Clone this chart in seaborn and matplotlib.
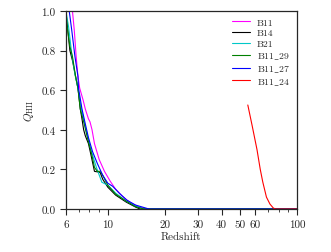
import numpy as np
import pandas as pd
import seaborn as sns
import matplotlib
matplotlib.use('Agg')
import matplotlib.pyplot as plt
from matplotlib.ticker import FixedLocator, NullFormatter

# reionisation histories
z_b11 = [6.0, 6.5, 6.65, 6.8, 6.95, 7.1, 7.4, 7.6, 7.9, 8.05, 8.25, 8.5, 9.0, 9.6, 10.3, 11.0, 11.9, 13.0, 14.5, 16.0, 100]
q_b11 = [1.0, 1.0, 0.90, 0.77, 0.67, 0.61, 0.55, 0.505, 0.455, 0.44, 0.40, 0.33, 0.25, 0.19, 0.14, 0.10, 0.065, 0.035, 0.012, 0.0, 0.0]

z_b14 = [6.0, 6.1, 6.3, 6.5, 6.75, 6.95, 7.15, 7.3, 7.45, 7.6, 7.9, 8.2, 8.5, 9.1, 9.4, 10.0, 11.0, 12.5, 14.0, 14.8, 100]
q_b14 = [1.0, 0.93, 0.80, 0.75, 0.67, 0.61, 0.505, 0.455, 0.40, 0.37, 0.33, 0.26, 0.19, 0.185, 0.15, 0.11, 0.07, 0.035, 0.01, 0.0, 0.0]

z_b21 = [6.0, 6.2, 6.45, 6.7, 6.95, 7.2, 7.5, 7.8, 8.2, 8.7, 9.3, 10.0, 11.0, 12.5, 14.0, 15.5, 100]
q_b21 = [1.0, 0.92, 0.78, 0.68, 0.61, 0.52, 0.44, 0.37, 0.29, 0.21, 0.135, 0.12, 0.08, 0.04, 0.015, 0.0, 0.0]

z_b11_29 = [6.0, 6.1, 6.3, 6.5, 6.75, 6.95, 7.15, 7.5, 7.8, 8.2, 8.5, 8.8, 9.1, 9.4, 10.0, 11.0, 12.5, 14.0, 15.5, 100]
q_b11_29 = [1.0, 0.92, 0.82, 0.77, 0.67, 0.61, 0.505, 0.43, 0.36, 0.28, 0.21, 0.19, 0.19, 0.17, 0.12, 0.075, 0.04, 0.012, 0.0, 0.0]

z_b11_27 = [6.0, 6.25, 6.45, 6.7, 6.95, 7.0, 7.3, 7.6, 7.9, 8.3, 8.8, 9.4, 10.0, 10.6, 11.5, 12.6, 14.0, 16.5, 100]
q_b11_27 = [1.0, 1.0, 0.90, 0.77, 0.67, 0.61, 0.505, 0.43, 0.36, 0.29, 0.23, 0.17, 0.13, 0.115, 0.08, 0.045, 0.02, 0.0, 0.0]

z_b11_24 = [55, 58, 61.5, 64, 66, 69, 72, 75, 77, 100]
q_b11_24 = [0.525, 0.42, 0.30, 0.20, 0.136, 0.06, 0.025, 0.005, 0.0, 0.0]

series = [('B11', z_b11, q_b11, '#ff00ff'),
          ('B14', z_b14, q_b14, '#000000'),
          ('B21', z_b21, q_b21, '#00c8c8'),
          ('B11_29', z_b11_29, q_b11_29, '#008000'),
          ('B11_27', z_b11_27, q_b11_27, '#0000ff'),
          ('B11_24', z_b11_24, q_b11_24, '#ff0000')]

x_ticks = [6, 10, 20, 30, 40, 50, 60, 100]

sns.set_style('ticks')
plt.rcParams['font.family'] = 'serif'
plt.rcParams['font.serif'] = ['cmr10']
plt.rcParams['mathtext.fontset'] = 'cm'
plt.rcParams['axes.unicode_minus'] = False

fig = plt.figure(figsize=(3.31, 2.53), dpi=100)
ax = fig.add_axes([0.199, 0.170, 0.698, 0.783])

for name, z, q, col in series:
    df = pd.DataFrame({'z': z, 'Q': q})
    sns.lineplot(data=df, x='z', y='Q', color=col, lw=0.8, label=name.replace('_', r'$\_$'),
                 sort=False, estimator=None, ax=ax)

ax.set_xscale('log')
ax.set_xlim(6, 100)
ax.set_ylim(0, 1)
ax.xaxis.set_major_locator(FixedLocator(x_ticks))
ax.set_xticklabels([str(t) for t in x_ticks])
ax.xaxis.set_minor_locator(FixedLocator([7, 8, 9, 70, 80, 90]))
ax.xaxis.set_minor_formatter(NullFormatter())
ax.set_yticks([0.0, 0.2, 0.4, 0.6, 0.8, 1.0])
ax.set_yticklabels(['0.0', '0.2', '0.4', '0.6', '0.8', '1.0'])
ax.tick_params(axis='both', which='major', labelsize=8, length=4, width=0.8, direction='out')
ax.tick_params(axis='both', which='minor', length=2.5, width=0.6, direction='out')
for s in ax.spines.values():
    s.set_linewidth(0.9)

ax.set_xlabel('Redshift', fontsize=8, labelpad=2)
ax.set_ylabel(r'$Q_{\rm HII}$', fontsize=8, labelpad=4)

ax.legend(loc='upper right', frameon=False, fontsize=7, handlelength=1.9,
          labelspacing=0.22, borderaxespad=0.3, handletextpad=0.7)

fig.savefig('out.png', dpi=100)
